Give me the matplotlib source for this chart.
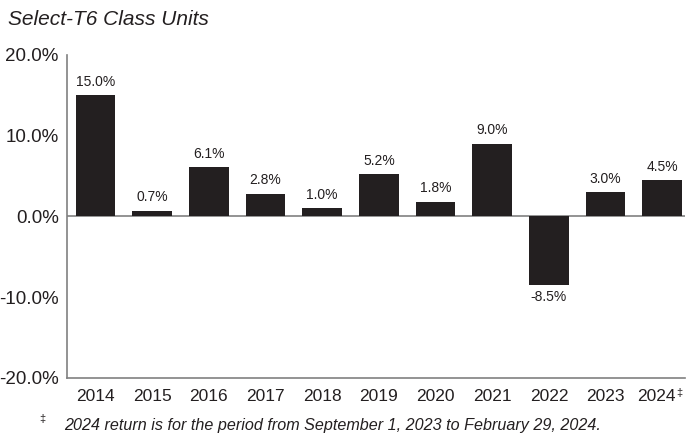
import matplotlib
matplotlib.use('Agg')
import matplotlib.pyplot as plt

plt.rcParams['font.family'] = ['Liberation Sans Narrow', 'Liberation Sans', 'DejaVu Sans']

years = ['2014', '2015', '2016', '2017', '2018', '2019', '2020', '2021', '2022', '2023', '2024']
returns = [15.0, 0.7, 6.1, 2.8, 1.0, 5.2, 1.8, 9.0, -8.5, 3.0, 4.5]
yticks = [-20, -10, 0, 10, 20]

fig = plt.figure(figsize=(6.86, 4.42), dpi=100)
ax = fig.add_axes([0.0977, 0.1448, 0.9008, 0.7308])

x = list(range(len(years)))
bars = ax.bar(x, returns, width=0.7, color='#231f20', zorder=2)

for xi, v in zip(x, returns):
    if v >= 0:
        ax.text(xi, v + 0.8, f'{v:.1f}%', ha='center', va='bottom', fontsize=10, color='#231f20')
    else:
        ax.text(xi, v - 0.6, f'{v:.1f}%', ha='center', va='top', fontsize=10, color='#231f20')

ax.axhline(0, color='#808080', lw=1.2, zorder=1)
ax.set_xlim(-0.5, 10.4)
ax.set_ylim(-20, 20)
ax.set_yticks(yticks)
ax.set_yticklabels([f'{t:.1f}%' for t in yticks], fontsize=13.5, color='#231f20')
ax.set_xticks(x)
ax.set_xticklabels(years[:-1] + [''], fontsize=12.5, color='#231f20')
ax.tick_params(length=0, pad=8)
ax.tick_params(axis='y', pad=6)

for s in ['top', 'right']:
    ax.spines[s].set_visible(False)
for s in ['left', 'bottom']:
    ax.spines[s].set_color('#808080')
    ax.spines[s].set_linewidth(1.2)

# last year label, shifted left to make room for the dagger
ax.annotate(years[-1], xy=(x[-1], -20), xytext=(-4, -8), textcoords='offset points',
            ha='center', va='top', fontsize=12.5, color='#231f20', annotation_clip=False)
ax.annotate('\u2021', xy=(x[-1], -20), xytext=(10, -7), textcoords='offset points',
            ha='left', va='top', fontsize=8, color='#231f20', annotation_clip=False)

fig.text(0.012, 0.955, 'Select-T6 Class Units', fontsize=15, style='italic',
         ha='left', va='center', color='#231f20')
fig.text(0.057, 0.052, '\u2021', fontsize=8, ha='left', va='center', color='#231f20')
fig.text(0.094, 0.038, '2024 return is for the period from September 1, 2023 to February 29, 2024.',
         fontsize=11.6, style='italic', ha='left', va='center', color='#231f20')

fig.savefig('out.png', dpi=100)
